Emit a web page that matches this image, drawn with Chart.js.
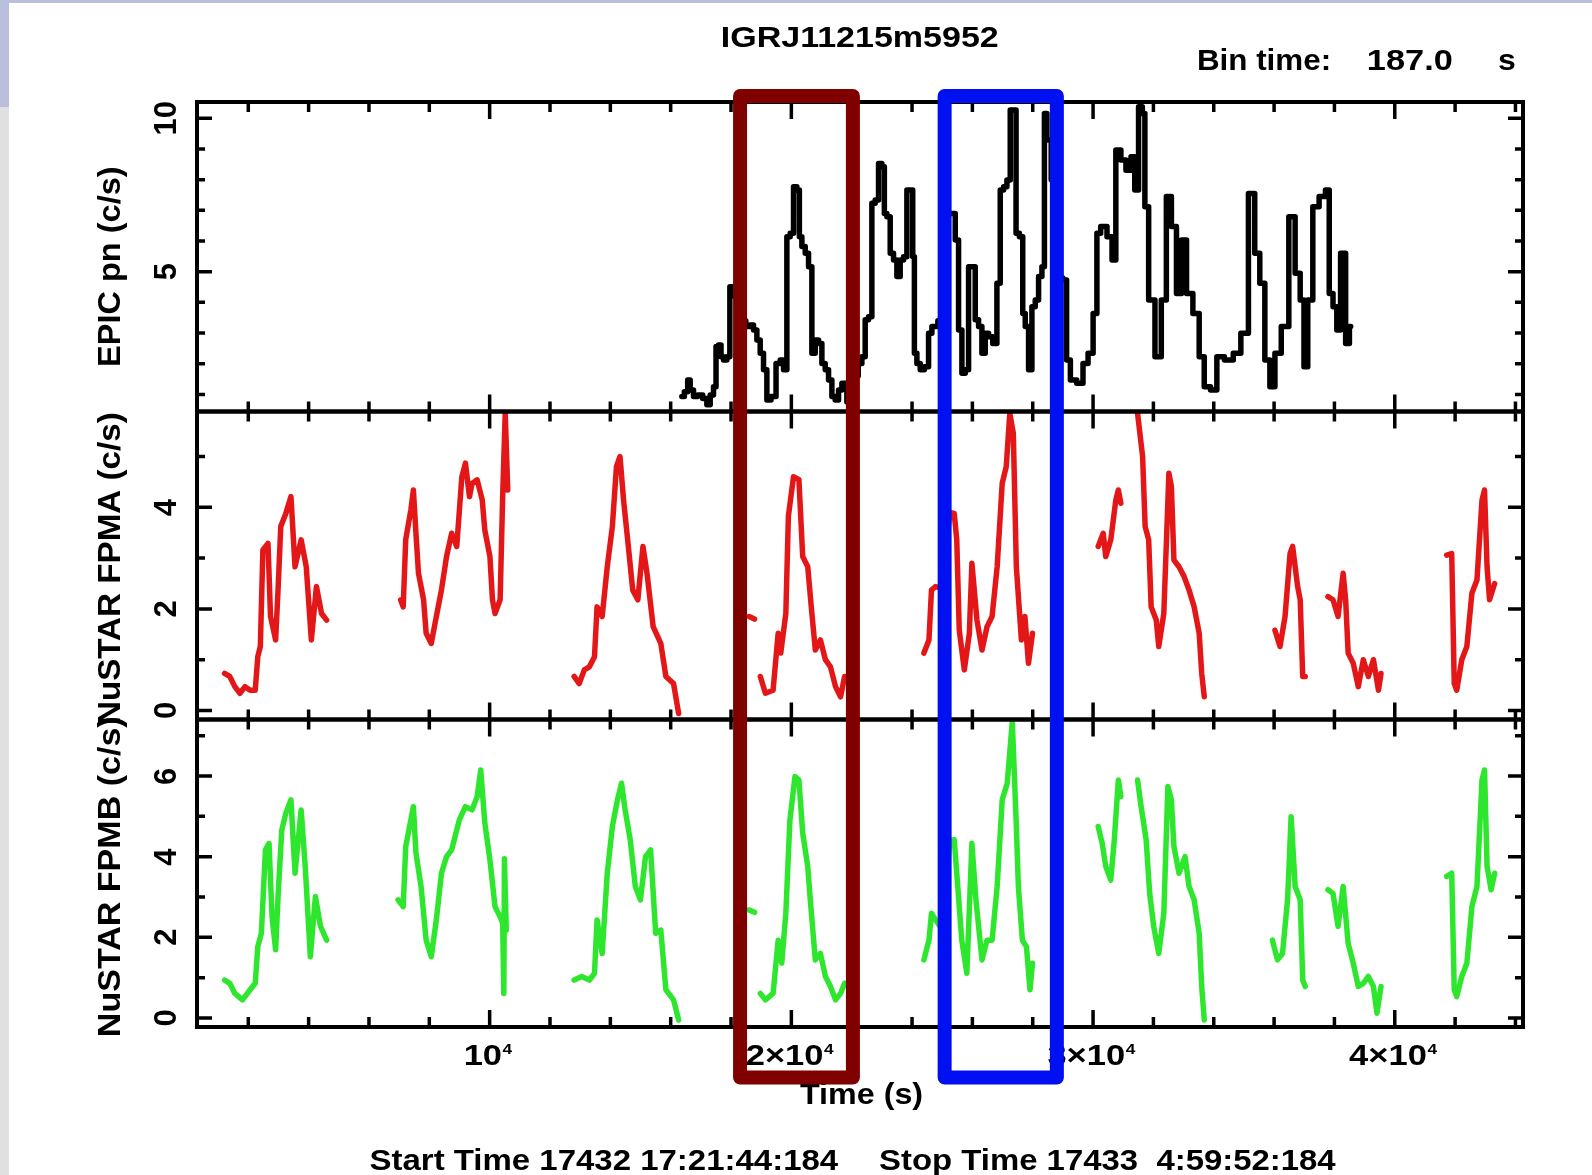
<!DOCTYPE html>
<html>
<head>
<meta charset="utf-8">
<script src="https://cdn.jsdelivr.net/npm/chart.js@4.4.1/dist/chart.umd.min.js"></script>
<style>
html,body{margin:0;padding:0;background:#fff;}
#wrap{position:relative;width:1592px;height:1175px;overflow:hidden;background:#fff;}
#topband{position:absolute;left:0;top:0;width:1592px;height:3px;background:#babfdd;}
#leftband1{position:absolute;left:0;top:0;width:9px;height:107px;background:#babfdd;}
#leftband2{position:absolute;left:0;top:107px;width:9px;height:1068px;background:#e0e0e0;}
#c{position:absolute;left:0;top:0;}
</style>
</head>
<body>
<div id="wrap">
<div id="topband"></div><div id="leftband1"></div><div id="leftband2"></div>
<canvas id="c" width="1592" height="1175"></canvas>
</div>
<script>
// ---------------- DATA ----------------
const epicTime = [16370,16536,16591,16702,16812,16978,17144,17254,17365,17475,17531,17641,17696,17807,17917,18006,18200,18400,18580,18691,18801,18912,19022,19133,19243,19409,19575,19685,19796,19906,20017,20127,20238,20293,20404,20514,20625,20735,20846,20956,21067,21177,21288,21398,21509,21619,21730,21950,22150,22282,22392,22503,22613,22724,22834,22945,23055,23110,23221,23331,23442,23552,23663,23774,23884,23995,24050,24105,24216,24326,24492,24603,24713,25000,25200,25376,25487,25597,25708,25818,25929,26039,26150,26260,26371,26481,26592,26757,26868,26978,27089,27199,27310,27420,27475,27641,27697,27807,27918,28028,28139,28249,28360,28415,28525,28700,28900,29081,29164,29332,29583,29750,29918,30085,30169,30336,30587,30671,30838,31006,31173,31341,31424,31592,31675,31759,31926,32177,32345,32513,32680,32848,33015,33182,33434,33601,33768,34019,34187,34521,34772,35024,35275,35442,35610,35777,35944,36112,36363,36614,36781,36949,37032,37200,37367,37618,37786,37869,38037,38120,38288,38455,38539];
const epicRate = [0.93,1.09,1.47,1.14,0.93,0.98,0.87,0.66,0.98,1.25,2.56,2.61,2.23,2.12,2.23,4.51,4.2,3.4,3.21,3.26,3.10,2.77,2.34,1.80,0.82,0.93,2.01,2.12,1.80,6.14,6.25,7.77,7.66,6.14,5.82,5.60,5.16,2.34,2.77,2.66,2.01,1.80,1.47,0.93,0.82,1.14,1.36,0.75,1.6,2.01,2.23,3.43,3.53,7.23,7.34,8.53,8.42,6.90,6.79,5.60,5.38,4.84,5.38,5.49,7.66,7.66,5.49,2.34,2.01,1.80,1.90,2.99,3.21,3.4,6.9,6.90,6.03,3.10,1.69,1.80,5.16,5.16,3.43,3.21,2.34,2.99,2.88,2.66,4.62,7.66,7.77,7.99,10.27,10.27,6.25,6.14,3.64,3.21,1.80,3.86,4.08,4.84,5.16,10.16,9.29,8.0,4.8,4.73,2.12,1.47,1.36,2.01,2.34,3.64,6.25,6.47,6.14,5.38,8.97,8.64,8.31,8.75,7.66,10.38,10.16,7.12,4.08,2.23,4.08,7.45,6.47,4.29,6.03,4.29,3.64,2.23,1.25,1.14,2.23,2.12,2.34,2.99,7.55,5.60,4.62,2.12,1.25,2.34,3.21,6.79,4.95,4.08,1.90,4.08,7.12,7.45,7.66,4.29,3.86,3.10,5.60,2.66,3.21];

// null entries separate observing intervals
const fpmaTime = [1215,1385,1554,1723,1892,2061,2230,2315,2399,2484,2653,2737,2906,2991,3076,3245,3414,3549,3752,3921,4090,4259,4428,4597,null,
7049,7134,7218,7388,7472,7557,7641,7810,7895,8064,8233,8402,8571,8740,8909,9078,9197,9332,9417,9586,9755,9840,10009,10093,10178,10347,10431,10516,10600,null,
12799,12968,13137,13306,13475,13560,13729,13898,14067,14202,14320,14439,14574,14743,14912,15081,15216,15419,15672,15841,16095,16264,null,
18600,18780,null,
18971,19140,19394,19563,19648,19817,19901,20070,20250,20376,20543,20660,20794,20962,21129,21296,21464,21631,21765,21850,null,
24393,24561,24644,24778,25000,25250,25398,25482,25565,25733,25900,25984,26151,26319,26486,26653,26821,26988,27122,27239,27356,27457,27624,27741,27858,27992,null,
30169,30336,30420,30587,30754,30838,30922,null,
31475,31642,31726,31843,31926,32094,32177,32345,32513,32596,32680,32848,33015,33182,33350,33517,33601,33685,null,
36028,36196,36363,36530,36614,36781,36865,36949,37032,null,
37786,37953,38120,38288,38372,38455,38623,38790,38957,39125,39292,39460,39544,null,
41719,41887,41971,42054,42221,42389,42556,42724,42891,42975,43059,43142,43310];
const fpmaRate = [0.73,0.67,0.47,0.34,0.47,0.40,0.40,1.06,1.26,3.16,3.29,1.85,1.39,2.44,3.62,3.88,4.21,2.83,3.36,2.83,1.39,2.44,1.91,1.78,null,
2.18,2.04,3.36,3.95,4.34,3.49,2.70,2.18,1.52,1.32,1.85,2.37,3.03,3.49,3.23,4.60,4.87,4.21,4.47,4.54,4.14,3.55,3.03,2.18,1.91,2.18,4.21,5.85,4.34,null,
0.67,0.53,0.80,0.86,1.06,2.04,1.85,2.83,3.62,4.80,5.00,4.14,3.36,2.37,2.18,3.23,2.70,1.65,1.32,0.67,0.53,-0.06,null,
1.85,1.80,null,
0.67,0.34,0.40,1.52,1.13,1.91,3.82,4.60,4.55,3.03,2.83,2.04,1.19,1.39,1.00,0.86,0.47,0.27,0.67,0.6,null,
1.13,1.39,2.37,2.44,2.4,3.9,3.88,3.36,1.58,0.80,1.52,2.90,1.78,1.19,1.65,1.85,2.83,4.47,4.80,5.85,5.46,2.83,1.39,1.85,0.93,1.52,null,
3.23,3.49,3.03,3.36,4.14,4.34,4.08,null,
5.85,5.00,3.62,3.36,2.04,1.78,1.26,1.91,4.67,4.41,2.96,2.83,2.64,2.37,2.04,1.52,0.73,0.27,null,
1.58,1.26,1.85,3.09,3.23,2.44,2.18,0.67,0.67,null,
2.24,2.18,1.85,2.70,2.18,1.13,0.93,0.47,1.00,0.67,1.00,0.40,0.73,null,
3.06,3.09,0.53,0.40,1.00,1.26,2.31,2.57,4.14,4.34,2.83,2.18,2.50];

const fpmbTime = [1215,1385,1554,1808,2061,2230,2315,2433,2568,2687,2788,2906,2991,3110,3245,3414,3549,3752,3887,4056,4225,4394,4597,null,
6965,7134,7218,7388,7472,7557,7726,7895,8064,8233,8402,8571,8740,8994,9197,9417,9586,9704,9840,10009,10178,10347,10431,10470,10490,10550,null,
12799,13052,13306,13475,13560,13729,13898,14067,14236,14371,14490,14659,14828,14997,15166,15334,15503,15672,15841,16095,16264,null,
18600,18780,null,
18971,19140,19394,19563,19681,19817,19952,20121,20250,20376,20543,20627,20794,20962,21129,21296,21464,21631,21765,null,
24393,24561,24644,24778,25000,25250,25398,25515,25648,25816,25984,26117,26319,26486,26653,26821,26988,27155,27323,27457,27524,27657,27792,27909,27992,null,
30169,30303,30420,30587,30704,30838,30922,null,
31475,31592,31759,31876,32010,32177,32345,32479,32596,32680,32848,33048,33182,33350,33517,33601,33685,null,
35944,36112,36279,36447,36564,36698,36865,36949,37032,null,
37786,37953,38120,38288,38455,38623,38790,38957,39125,39292,39410,39544,null,
41719,41887,41971,42054,42221,42389,42556,42724,42891,42975,43059,43193,43310];
const fpmbRate = [0.94,0.86,0.61,0.45,0.70,0.86,1.77,2.10,4.17,4.33,2.51,1.69,3.09,4.66,5.08,5.41,3.59,5.16,3.76,1.52,3.01,2.27,1.93,null,
2.93,2.76,4.25,4.91,5.24,4.09,3.26,1.93,1.52,2.43,3.59,4.00,4.17,4.91,5.24,5.16,5.49,6.15,4.83,3.92,2.76,2.51,2.35,0.61,3.95,2.18,null,
0.94,1.03,0.94,1.11,2.43,1.60,3.59,4.75,5.41,5.82,5.16,4.42,3.26,2.93,4.00,4.17,2.10,2.18,0.70,0.45,-0.05,null,
2.68,2.62,null,
0.61,0.45,0.61,1.93,1.36,2.60,4.91,5.99,5.9,4.58,3.76,2.93,1.44,1.60,1.03,0.78,0.45,0.61,0.86,null,
1.44,1.93,2.60,2.43,2.2,4.4,4.42,3.26,1.93,1.11,4.33,2.93,1.44,1.93,1.93,3.26,5.41,5.82,7.35,4.75,3.26,1.93,1.77,0.70,1.36,null,
4.75,4.33,3.76,3.42,4.42,5.90,5.49,null,
5.90,5.24,4.42,3.09,2.27,1.60,2.60,5.74,5.41,4.25,3.59,4.00,3.26,2.93,2.10,0.78,-0.05,null,
1.93,1.44,1.60,2.93,4.99,3.26,2.93,0.94,0.78,null,
3.18,3.09,2.27,3.26,1.85,1.36,0.78,0.86,1.03,0.78,0.12,0.78,null,
3.51,3.59,0.70,0.53,1.03,1.36,2.76,3.26,5.90,6.15,3.76,3.18,3.59];

// axis ticks and labels
const xTicks = [2000,4000,6000,8000,10000,12000,14000,16000,18000,20000,22000,24000,26000,28000,30000,32000,34000,36000,38000,40000,42000,44000];
const xMajorTicks = [10000,20000,30000,40000];
const xTickBase = ["10","2\u00d710","3\u00d710","4\u00d710"];
const xTickExp = ["4","4","4","4"];
const epicTicks = [1,2,3,4,5,6,7,8,9,10];
const epicMajor = [5,10];
const epicLabels = ["5","10"];
const fpmaTicks = [0,1,2,3,4,5];
const fpmaMajor = [0,2,4];
const fpmaLabels = ["0","2","4"];
const fpmbTicks = [0,1,2,3,4,5,6,7];
const fpmbMajor = [0,2,4,6];
const fpmbLabels = ["0","2","4","6"];
// highlighted time windows (s)
const windowStart = [18300, 25080];
const windowEnd = [22040, 28800];
const windowColor = ["#800000", "#0010f0"];

// ---------------- DRAWING ----------------
const FONT = '"Liberation Sans", Arial, sans-serif';
function drawText(ctx, s, x, y, o) {
  ctx.save();
  ctx.font = 'bold ' + o.size + 'px ' + FONT;
  ctx.textAlign = 'left';
  ctx.textBaseline = 'alphabetic';
  const m = ctx.measureText(s);
  const inkL = m.actualBoundingBoxLeft, inkR = m.actualBoundingBoxRight;
  const sx = o.width ? o.width / (inkL + inkR) : 1;
  ctx.translate(x, y);
  if (o.rot) ctx.rotate(-Math.PI / 2);
  ctx.scale(sx, 1);
  const ox = o.align === 'center' ? -(inkR - inkL) / 2 : inkL;
  ctx.fillText(s, ox, 0);
  ctx.restore();
}
function drawSup(ctx, base, sup, cx, y, size, sx) {
  ctx.save();
  const fMain = 'bold ' + size + 'px ' + FONT;
  const fSup = 'bold ' + Math.round(size * 0.5) + 'px ' + FONT;
  ctx.textAlign = 'left'; ctx.textBaseline = 'alphabetic';
  ctx.font = fMain; const wb = ctx.measureText(base).width;
  ctx.font = fSup; const ws = ctx.measureText(sup).width;
  const total = (wb + ws) * sx;
  ctx.translate(cx - total / 2, y);
  ctx.scale(sx, 1);
  ctx.font = fMain; ctx.fillText(base, 0, 0);
  ctx.font = fSup; ctx.fillText(sup, wb + 0.5, -size * 0.37);
  ctx.restore();
}

const panels = [
  {id: 'y1', ticks: epicTicks, major: epicMajor, labels: epicLabels, title: 'EPIC pn (c/s)', tc: 266, tw: 198},
  {id: 'y2', ticks: fpmaTicks, major: fpmaMajor, labels: fpmaLabels, title: 'NuSTAR FPMA (c/s)', tc: 568, tw: 310},
  {id: 'y3', ticks: fpmbTicks, major: fpmbMajor, labels: fpmbLabels, title: 'NuSTAR FPMB (c/s)', tc: 876, tw: 318}
];

const pgPlot = {
  id: 'pgplot',
  afterDraw(chart) {
    const ctx = chart.ctx, xs = chart.scales.x, ca = chart.chartArea;
    const L = ca.left, R = ca.right;
    ctx.save();
    ctx.strokeStyle = '#000'; ctx.fillStyle = '#000';
    panels.forEach(p => {
      const s = chart.scales[p.id];
      const T = s.top, B = s.bottom;
      ctx.lineWidth = 3.5; ctx.lineCap = 'butt';
      ctx.beginPath();
      xTicks.forEach(t => {
        const px = xs.getPixelForValue(t);
        const len = xMajorTicks.includes(t) ? 17 : 10;
        ctx.moveTo(px, T); ctx.lineTo(px, T + len);
        ctx.moveTo(px, B); ctx.lineTo(px, B - len);
      });
      p.ticks.forEach(v => {
        const py = s.getPixelForValue(v);
        const len = p.major.includes(v) ? 15 : 8;
        ctx.moveTo(L, py); ctx.lineTo(L + len, py);
        ctx.moveTo(R, py); ctx.lineTo(R - len, py);
      });
      ctx.stroke();
      ctx.lineWidth = 4; ctx.lineJoin = 'miter';
      ctx.strokeRect(L, T, R - L, B - T);
      p.major.forEach((v, i) => {
        drawText(ctx, p.labels[i], 176, s.getPixelForValue(v), {size: 31, align: 'center', rot: true});
      });
      drawText(ctx, p.title, 120, p.tc, {size: 32, align: 'center', rot: true, width: p.tw});
    });
    xMajorTicks.forEach((t, i) => {
      drawSup(ctx, xTickBase[i], xTickExp[i], xs.getPixelForValue(t) - 2, 1065, 30, 1.15);
    });
    drawText(ctx, 'IGRJ11215m5952', 723, 47, {size: 30, align: 'left', width: 275});
    drawText(ctx, 'Bin time:', 1199, 70, {size: 30, align: 'left', width: 130});
    drawText(ctx, '187.0', 1368, 70, {size: 30, align: 'left', width: 84});
    drawText(ctx, 's', 1499, 70, {size: 30, align: 'left', width: 16});
    drawText(ctx, 'Time (s)', 861, 1104, {size: 30, align: 'center', width: 122});
    drawText(ctx, 'Start Time 17432 17:21:44:184', 369.5, 1170, {size: 30, align: 'left', width: 469});
    drawText(ctx, 'Stop Time 17433  4:59:52:184', 879, 1170, {size: 30, align: 'left', width: 457});
    // highlight boxes
    ctx.lineWidth = 14; ctx.lineJoin = 'round';
    windowStart.forEach((t0, i) => {
      const x0 = xs.getPixelForValue(t0), x1 = xs.getPixelForValue(windowEnd[i]);
      ctx.strokeStyle = windowColor[i];
      ctx.strokeRect(x0, ca.top - 6, x1 - x0, (ca.bottom + 50.5) - (ca.top - 6));
    });
    ctx.restore();
  }
};

const mk = (ts, vs) => ts.map((t, i) => ({x: t, y: vs[i]}));

new Chart(document.getElementById('c'), {
  type: 'line',
  data: {
    datasets: [
      {label: 'EPIC pn', data: mk(epicTime, epicRate), yAxisID: 'y1', borderColor: '#000000', borderWidth: 5.5, pointRadius: 0, stepped: 'middle', borderJoinStyle: 'round', borderCapStyle: 'round', spanGaps: false},
      {label: 'NuSTAR FPMA', data: mk(fpmaTime, fpmaRate), yAxisID: 'y2', borderColor: '#e31717', borderWidth: 5.5, pointRadius: 0, borderJoinStyle: 'round', borderCapStyle: 'round', spanGaps: false},
      {label: 'NuSTAR FPMB', data: mk(fpmbTime, fpmbRate), yAxisID: 'y3', borderColor: '#2ee62e', borderWidth: 5.5, pointRadius: 0, borderJoinStyle: 'round', borderCapStyle: 'round', spanGaps: false}
    ]
  },
  options: {
    responsive: false, animation: false, devicePixelRatio: 1,
    parsing: true,
    layout: {padding: {left: 197, right: 69, top: 102, bottom: 148}},
    plugins: {legend: {display: false}, tooltip: {enabled: false}, title: {display: false}},
    elements: {line: {tension: 0}, point: {radius: 0}},
    scales: {
      x: {type: 'linear', min: 300, max: 44250, display: false},
      y1: {type: 'linear', position: 'left', stack: 'pg', stackWeight: 309.5, weight: 3, min: 0.443, max: 10.531, display: false},
      y2: {type: 'linear', position: 'left', stack: 'pg', stackWeight: 308, weight: 2, min: -0.177, max: 5.886, display: false},
      y3: {type: 'linear', position: 'left', stack: 'pg', stackWeight: 307.5, weight: 1, min: -0.223, max: 7.401, display: false}
    }
  },
  plugins: [pgPlot]
});
</script>
</body>
</html>
